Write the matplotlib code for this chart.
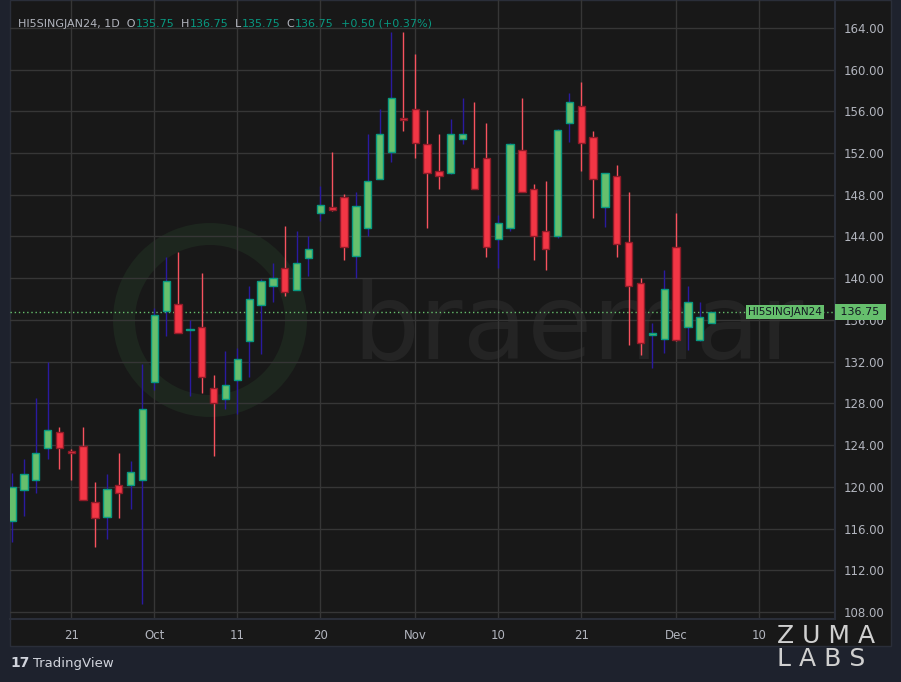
import numpy as np
import matplotlib
matplotlib.use("Agg")
import matplotlib.pyplot as plt
from matplotlib.patches import Rectangle, Wedge

# daily OHLC, Sep 13 2023 .. Dec 6 2023 (trading days)
opens = [116.75, 119.65, 120.7, 123.75, 125.25, 123.4, 123.95, 118.5, 117.15, 120.2,
         120.2, 120.7, 130.05, 136.9, 137.5, 135.0, 135.3, 129.45, 128.4, 130.25,
         134.0, 137.4, 139.3, 141.0, 138.9, 141.95, 146.25, 146.8, 147.8, 142.15,
         144.8, 149.5, 152.1, 155.3, 156.25, 152.85, 150.25, 150.05, 153.3, 150.55,
         151.5, 143.75, 144.8, 152.25, 148.55, 144.55, 144.05, 154.85, 156.55, 153.5,
         146.8, 149.8, 143.5, 139.5, 134.6, 134.2, 143.0, 135.3, 134.05, 135.75]
highs = [121.35, 122.7, 128.5, 132.0, 125.75, 123.6, 125.75, 120.5, 121.25, 123.25,
         122.5, 131.75, 137.1, 142.05, 142.5, 135.95, 140.5, 130.7, 133.0, 133.3,
         139.3, 139.9, 141.5, 145.0, 144.55, 144.05, 148.85, 152.1, 148.05, 148.25,
         153.8, 156.25, 163.6, 163.6, 161.5, 156.1, 153.8, 155.3, 157.3, 156.85,
         154.85, 146.05, 153.0, 157.3, 149.0, 149.3, 154.3, 157.8, 158.85, 154.1,
         150.1, 150.85, 148.25, 140.05, 135.75, 140.8, 146.25, 139.3, 137.75, 136.75]
lows = [114.7, 117.25, 119.45, 122.7, 121.75, 120.7, 118.7, 114.2, 115.0, 117.0,
        117.9, 108.75, 129.3, 134.5, 134.7, 128.7, 129.0, 123.0, 127.45, 127.0,
        130.5, 132.7, 137.75, 138.25, 138.9, 140.25, 145.5, 146.4, 141.75, 140.05,
        144.05, 149.5, 151.1, 154.1, 151.5, 144.8, 148.55, 150.0, 152.85, 148.55,
        142.05, 141.0, 144.55, 148.25, 141.75, 140.8, 143.85, 153.1, 150.25, 145.8,
        144.9, 142.05, 133.55, 132.6, 131.35, 132.8, 134.0, 133.1, 134.0, 135.75]
closes = [120.0, 121.25, 123.25, 125.45, 123.75, 123.2, 118.7, 117.0, 119.75, 119.45,
          121.45, 127.45, 136.5, 139.75, 134.7, 135.05, 130.5, 128.0, 129.75, 132.25,
          138.05, 139.75, 140.05, 138.7, 141.5, 142.8, 147.0, 146.5, 143.0, 146.9,
          149.3, 153.8, 157.3, 155.2, 153.0, 150.05, 149.8, 153.8, 153.8, 148.55,
          143.0, 145.3, 152.85, 148.25, 144.05, 142.8, 154.25, 156.85, 153.0, 149.5,
          150.05, 143.3, 139.3, 133.75, 134.65, 139.0, 134.05, 137.75, 136.25, 136.75]

tick_idx = [5, 12, 19, 26, 34, 41, 48, 56, 63]
tick_labels = ["21", "Oct", "11", "20", "Nov", "10", "21", "Dec", "10"]
yticks = np.arange(108, 165, 4)
last_price = 136.75

BG = "#181818"
OUTER = "#1e222d"
GRID = "#363636"
TXT = "#b2b5be"
UP_FILL, UP_EDGE, UP_WICK = "#66bf6d", "#089981", "#2a1aa0"
DN_FILL, DN_EDGE, DN_WICK = "#f23645", "#8f1b28", "#f7525f"

fig = plt.figure(figsize=(9.01, 6.82), dpi=100, facecolor=OUTER)
# dark chart panel behind plot + axes strips
panel = Rectangle((10 / 901, 1 - 646 / 682), 881 / 901, 646 / 682, transform=fig.transFigure,
                  facecolor=BG, edgecolor="#2a2e39", lw=1, zorder=0)
fig.patches.append(panel)

# watermark (braemar ring + word), in inches so the ring stays round
ring = Wedge((2.10, 6.82 - 3.20), 0.97, 0, 360, width=0.22, transform=fig.dpi_scale_trans,
             facecolor="#1d261e", edgecolor="none", zorder=0.5)
fig.patches.append(ring)
fig.text(352 / 901, 1 - 330 / 682, "braemar", color="#242424", fontsize=76,
         va="center", ha="left", zorder=0.5)

ax = fig.add_axes([10 / 901, 1 - 619 / 682, 825 / 901, 619 / 682])
ax.set_zorder(2)
ax.patch.set_alpha(0)

n = len(opens)
x = np.arange(n)
ax.set_xlim(-0.17, 69.4)
ax.set_ylim(107.33, 166.67)

ax.set_yticks(yticks)
ax.set_xticks(tick_idx)
ax.grid(True, color=GRID, lw=1)
ax.set_axisbelow(True)

w = 0.62
for i in x:
    o, h, l, c = opens[i], highs[i], lows[i], closes[i]
    up = c >= o
    ax.vlines(i, l, h, color=UP_WICK if up else DN_WICK, lw=1, zorder=2)
    bottom, height = min(o, c), max(abs(c - o), 0.12)
    ax.add_patch(Rectangle((i - w / 2, bottom), w, height,
                           facecolor=UP_FILL if up else DN_FILL,
                           edgecolor=UP_EDGE if up else DN_EDGE, lw=1, zorder=3))

ax.axhline(last_price, color="#66bf6d", lw=1, ls=(0, (1, 2)), zorder=1)

ax.yaxis.tick_right()
ax.tick_params(axis="y", length=0, colors=TXT, labelsize=8.5, pad=6)
ax.tick_params(axis="x", length=0, colors=TXT, labelsize=8.5, pad=7)
ax.set_yticklabels([f"{v:.2f}" for v in yticks])
ax.set_xticklabels(tick_labels)
for s in ax.spines.values():
    s.set_visible(False)
ax.axhline(107.33, color="#2a2e39", lw=1.5, clip_on=False)
ax.axvline(69.4, color="#2a2e39", lw=1.5, clip_on=False)

# last price labels
ax.text(62.1, last_price, "HI5SINGJAN24", color="#131722", fontsize=7.5, va="center", ha="left",
        bbox=dict(boxstyle="square,pad=0.2", facecolor="#66bf6d", edgecolor="none"), zorder=5)
ax.text(69.6, last_price, " 136.75 ", color="#131722", fontsize=8, va="center", ha="left",
        clip_on=False, bbox=dict(boxstyle="square,pad=0.25", facecolor="#66bf6d", edgecolor="none"), zorder=5)

# legend line at top
renderer = fig.canvas.get_renderer()
parts = [("HI5SINGJAN24, 1D  O", TXT), ("135.75", "#089981"), ("  H", TXT), ("136.75", "#089981"),
         ("  L", TXT), ("135.75", "#089981"), ("  C", TXT), ("136.75", "#089981"),
         ("  +0.50 (+0.37%)", "#089981")]
xpos = 18 / 901
for s, col in parts:
    tt = fig.text(xpos, 1 - 24 / 682, s, color=col, fontsize=8, va="center")
    xpos += tt.get_window_extent(renderer).width / fig.bbox.width

fig.text(10 / 901, 1 - 663 / 682, "17", color="#d1d4dc", fontsize=10, fontweight="bold", va="center")
fig.text(33 / 901, 1 - 663 / 682, "TradingView", color="#d1d4dc", fontsize=9.5, va="center")
fig.text(777 / 901, 1 - 636 / 682, "Z U M A", color="#d0d0d0", fontsize=18, va="center")
fig.text(777 / 901, 1 - 659 / 682, "L A B S", color="#d0d0d0", fontsize=18, va="center")

fig.savefig("out.png", dpi=100, facecolor=OUTER)
